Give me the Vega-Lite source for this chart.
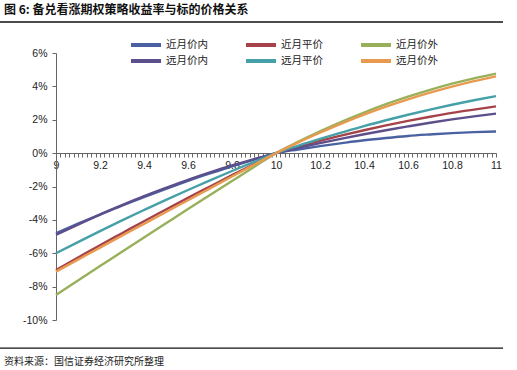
{
  "$schema": "https://vega.github.io/schema/vega-lite/v6.json",
  "width": 440,
  "height": 267,
  "autosize": "none",
  "padding": {"left": 56, "top": 53, "right": 21, "bottom": 50},
  "background": "white",
  "title": {
    "text": "图 6: 备兑看涨期权策略收益率与标的价格关系",
    "anchor": "start",
    "frame": "group",
    "dx": -52,
    "offset": 4,
    "font": "Noto Sans CJK SC",
    "fontSize": 12,
    "fontWeight": "bold",
    "color": "#111111"
  },
  "config": {
    "view": {"stroke": null},
    "font": "Liberation Sans",
    "axis": {"labelOverlap": false}
  },
  "resolve": {"axis": {"x": "independent", "y": "independent"}},
  "datasets": {
    "curves": [
      {"series": "近月价内", "x": 9.0, "y": -4.8},
      {"series": "近月价内", "x": 9.1, "y": -4.23},
      {"series": "近月价内", "x": 9.2, "y": -3.68},
      {"series": "近月价内", "x": 9.3, "y": -3.14},
      {"series": "近月价内", "x": 9.4, "y": -2.63},
      {"series": "近月价内", "x": 9.5, "y": -2.14},
      {"series": "近月价内", "x": 9.6, "y": -1.67},
      {"series": "近月价内", "x": 9.7, "y": -1.22},
      {"series": "近月价内", "x": 9.8, "y": -0.8},
      {"series": "近月价内", "x": 9.9, "y": -0.39},
      {"series": "近月价内", "x": 10.0, "y": 0},
      {"series": "近月价内", "x": 10.1, "y": 0.22},
      {"series": "近月价内", "x": 10.2, "y": 0.42},
      {"series": "近月价内", "x": 10.3, "y": 0.6},
      {"series": "近月价内", "x": 10.4, "y": 0.77},
      {"series": "近月价内", "x": 10.5, "y": 0.91},
      {"series": "近月价内", "x": 10.6, "y": 1.03},
      {"series": "近月价内", "x": 10.7, "y": 1.12},
      {"series": "近月价内", "x": 10.8, "y": 1.2},
      {"series": "近月价内", "x": 10.9, "y": 1.26},
      {"series": "近月价内", "x": 11.0, "y": 1.3},
      {"series": "近月平价", "x": 9.0, "y": -7.0},
      {"series": "近月平价", "x": 9.1, "y": -6.26},
      {"series": "近月平价", "x": 9.2, "y": -5.52},
      {"series": "近月平价", "x": 9.3, "y": -4.8},
      {"series": "近月平价", "x": 9.4, "y": -4.08},
      {"series": "近月平价", "x": 9.5, "y": -3.38},
      {"series": "近月平价", "x": 9.6, "y": -2.68},
      {"series": "近月平价", "x": 9.7, "y": -2.0},
      {"series": "近月平价", "x": 9.8, "y": -1.32},
      {"series": "近月平价", "x": 9.9, "y": -0.66},
      {"series": "近月平价", "x": 10.0, "y": 0},
      {"series": "近月平价", "x": 10.1, "y": 0.37},
      {"series": "近月平价", "x": 10.2, "y": 0.73},
      {"series": "近月平价", "x": 10.3, "y": 1.06},
      {"series": "近月平价", "x": 10.4, "y": 1.37},
      {"series": "近月平价", "x": 10.5, "y": 1.66},
      {"series": "近月平价", "x": 10.6, "y": 1.93},
      {"series": "近月平价", "x": 10.7, "y": 2.18},
      {"series": "近月平价", "x": 10.8, "y": 2.41},
      {"series": "近月平价", "x": 10.9, "y": 2.61},
      {"series": "近月平价", "x": 11.0, "y": 2.8},
      {"series": "近月价外", "x": 9.0, "y": -8.5},
      {"series": "近月价外", "x": 9.1, "y": -7.63},
      {"series": "近月价外", "x": 9.2, "y": -6.77},
      {"series": "近月价外", "x": 9.3, "y": -5.91},
      {"series": "近月价外", "x": 9.4, "y": -5.05},
      {"series": "近月价外", "x": 9.5, "y": -4.2},
      {"series": "近月价外", "x": 9.6, "y": -3.35},
      {"series": "近月价外", "x": 9.7, "y": -2.51},
      {"series": "近月价外", "x": 9.8, "y": -1.67},
      {"series": "近月价外", "x": 9.9, "y": -0.83},
      {"series": "近月价外", "x": 10.0, "y": 0},
      {"series": "近月价外", "x": 10.1, "y": 0.67},
      {"series": "近月价外", "x": 10.2, "y": 1.3},
      {"series": "近月价外", "x": 10.3, "y": 1.89},
      {"series": "近月价外", "x": 10.4, "y": 2.43},
      {"series": "近月价外", "x": 10.5, "y": 2.93},
      {"series": "近月价外", "x": 10.6, "y": 3.38},
      {"series": "近月价外", "x": 10.7, "y": 3.79},
      {"series": "近月价外", "x": 10.8, "y": 4.16},
      {"series": "近月价外", "x": 10.9, "y": 4.48},
      {"series": "近月价外", "x": 11.0, "y": 4.76},
      {"series": "远月价内", "x": 9.0, "y": -4.9},
      {"series": "远月价内", "x": 9.1, "y": -4.28},
      {"series": "远月价内", "x": 9.2, "y": -3.68},
      {"series": "远月价内", "x": 9.3, "y": -3.12},
      {"series": "远月价内", "x": 9.4, "y": -2.58},
      {"series": "远月价内", "x": 9.5, "y": -2.08},
      {"series": "远月价内", "x": 9.6, "y": -1.6},
      {"series": "远月价内", "x": 9.7, "y": -1.16},
      {"series": "远月价内", "x": 9.8, "y": -0.74},
      {"series": "远月价内", "x": 9.9, "y": -0.36},
      {"series": "远月价内", "x": 10.0, "y": 0},
      {"series": "远月价内", "x": 10.1, "y": 0.31},
      {"series": "远月价内", "x": 10.2, "y": 0.6},
      {"series": "远月价内", "x": 10.3, "y": 0.87},
      {"series": "远月价内", "x": 10.4, "y": 1.13},
      {"series": "远月价内", "x": 10.5, "y": 1.37},
      {"series": "远月价内", "x": 10.6, "y": 1.6},
      {"series": "远月价内", "x": 10.7, "y": 1.82},
      {"series": "远月价内", "x": 10.8, "y": 2.02},
      {"series": "远月价内", "x": 10.9, "y": 2.2},
      {"series": "远月价内", "x": 11.0, "y": 2.37},
      {"series": "远月平价", "x": 9.0, "y": -6.0},
      {"series": "远月平价", "x": 9.1, "y": -5.33},
      {"series": "远月平价", "x": 9.2, "y": -4.67},
      {"series": "远月平价", "x": 9.3, "y": -4.03},
      {"series": "远月平价", "x": 9.4, "y": -3.41},
      {"series": "远月平价", "x": 9.5, "y": -2.8},
      {"series": "远月平价", "x": 9.6, "y": -2.21},
      {"series": "远月平价", "x": 9.7, "y": -1.63},
      {"series": "远月平价", "x": 9.8, "y": -1.07},
      {"series": "远月平价", "x": 9.9, "y": -0.53},
      {"series": "远月平价", "x": 10.0, "y": 0},
      {"series": "远月平价", "x": 10.1, "y": 0.44},
      {"series": "远月平价", "x": 10.2, "y": 0.85},
      {"series": "远月平价", "x": 10.3, "y": 1.24},
      {"series": "远月平价", "x": 10.4, "y": 1.62},
      {"series": "远月平价", "x": 10.5, "y": 1.97},
      {"series": "远月平价", "x": 10.6, "y": 2.3},
      {"series": "远月平价", "x": 10.7, "y": 2.61},
      {"series": "远月平价", "x": 10.8, "y": 2.9},
      {"series": "远月平价", "x": 10.9, "y": 3.17},
      {"series": "远月平价", "x": 11.0, "y": 3.42},
      {"series": "远月价外", "x": 9.0, "y": -7.1},
      {"series": "远月价外", "x": 9.1, "y": -6.38},
      {"series": "远月价外", "x": 9.2, "y": -5.66},
      {"series": "远月价外", "x": 9.3, "y": -4.95},
      {"series": "远月价外", "x": 9.4, "y": -4.24},
      {"series": "远月价外", "x": 9.5, "y": -3.53},
      {"series": "远月价外", "x": 9.6, "y": -2.82},
      {"series": "远月价外", "x": 9.7, "y": -2.11},
      {"series": "远月价外", "x": 9.8, "y": -1.4},
      {"series": "远月价外", "x": 9.9, "y": -0.7},
      {"series": "远月价外", "x": 10.0, "y": 0},
      {"series": "远月价外", "x": 10.1, "y": 0.63},
      {"series": "远月价外", "x": 10.2, "y": 1.22},
      {"series": "远月价外", "x": 10.3, "y": 1.78},
      {"series": "远月价外", "x": 10.4, "y": 2.3},
      {"series": "远月价外", "x": 10.5, "y": 2.78},
      {"series": "远月价外", "x": 10.6, "y": 3.22},
      {"series": "远月价外", "x": 10.7, "y": 3.62},
      {"series": "远月价外", "x": 10.8, "y": 3.98},
      {"series": "远月价外", "x": 10.9, "y": 4.31},
      {"series": "远月价外", "x": 11.0, "y": 4.6}
    ]
  },
  "layer": [
    {
      "data": {"name": "curves"},
      "mark": {"type": "line", "strokeWidth": 2.4, "interpolate": "monotone"},
      "encoding": {
        "x": {
          "field": "x",
          "type": "quantitative",
          "scale": {"domain": [9, 11], "nice": false, "zero": false},
          "axis": {
            "title": null,
            "orient": "bottom",
            "offset": -167,
            "tickCount": 100,
            "tickSize": 4,
            "tickColor": "#666666",
            "domainColor": "#666666",
            "grid": false,
            "labelOverlap": false,
            "labelFlush": false,
            "labelBound": false,
            "labelPadding": 3,
            "labelFontSize": 10.5,
            "labelColor": "#222222",
            "labelFont": "Liberation Sans",
            "labelExpr": "round(datum.value * 50) % 10 == 0 ? format(datum.value, '~g') : ''"
          }
        },
        "y": {
          "field": "y",
          "type": "quantitative",
          "scale": {"domain": [-10, 6], "nice": false, "zero": false},
          "axis": {
            "title": null,
            "values": [-10, -8, -6, -4, -2, 0, 2, 4, 6],
            "tickSize": 4,
            "tickColor": "#666666",
            "domainColor": "#666666",
            "grid": false,
            "labelOverlap": false,
            "labelBound": false,
            "labelFlush": false,
            "labelPadding": 5,
            "labelFontSize": 10.5,
            "labelColor": "#222222",
            "labelFont": "Liberation Sans",
            "labelExpr": "datum.value + '%'"
          }
        },
        "color": {
          "field": "series",
          "type": "nominal",
          "sort": ["近月价内", "近月平价", "近月价外", "远月价内", "远月平价", "远月价外"],
          "scale": {
            "domain": ["近月价内", "近月平价", "近月价外", "远月价内", "远月平价", "远月价外"],
            "range": ["#4A62A2", "#A5424A", "#98B05A", "#5D4E8C", "#45A0A8", "#E89A50"]
          },
          "legend": {
            "title": null,
            "orient": "none",
            "legendX": 73,
            "legendY": -14,
            "direction": "horizontal",
            "columns": 3,
            "columnPadding": 36,
            "rowPadding": 4,
            "clipHeight": 12,
            "symbolType": "stroke",
            "symbolSize": 900,
            "symbolStrokeWidth": 4,
            "labelOffset": 3,
            "labelFont": "Noto Sans CJK SC",
            "labelFontSize": 10.5,
            "labelColor": "#222222"
          }
        }
      }
    },
    {
      "data": {"values": [{}]},
      "mark": {"type": "rule", "color": "#111111", "strokeWidth": 1.5, "clip": false},
      "encoding": {
        "x": {"datum": 8.745, "type": "quantitative", "axis": null},
        "x2": {"datum": 11.032},
        "y": {"datum": 7.86, "type": "quantitative", "axis": null}
      }
    },
    {
      "data": {"values": [{}]},
      "mark": {"type": "rule", "color": "#111111", "strokeWidth": 1.2, "clip": false},
      "encoding": {
        "x": {"datum": 8.745, "type": "quantitative", "axis": null},
        "x2": {"datum": 11.032},
        "y": {"datum": -11.68, "type": "quantitative", "axis": null}
      }
    },
    {
      "data": {"values": [{}]},
      "mark": {"type": "text", "align": "left", "baseline": "middle", "font": "Noto Sans CJK SC", "fontSize": 10, "color": "#222222", "clip": false},
      "encoding": {
        "x": {"datum": 8.764, "type": "quantitative", "axis": null},
        "y": {"datum": -12.51, "type": "quantitative", "axis": null},
        "text": {"value": "资料来源：国信证券经济研究所整理"}
      }
    }
  ]
}
